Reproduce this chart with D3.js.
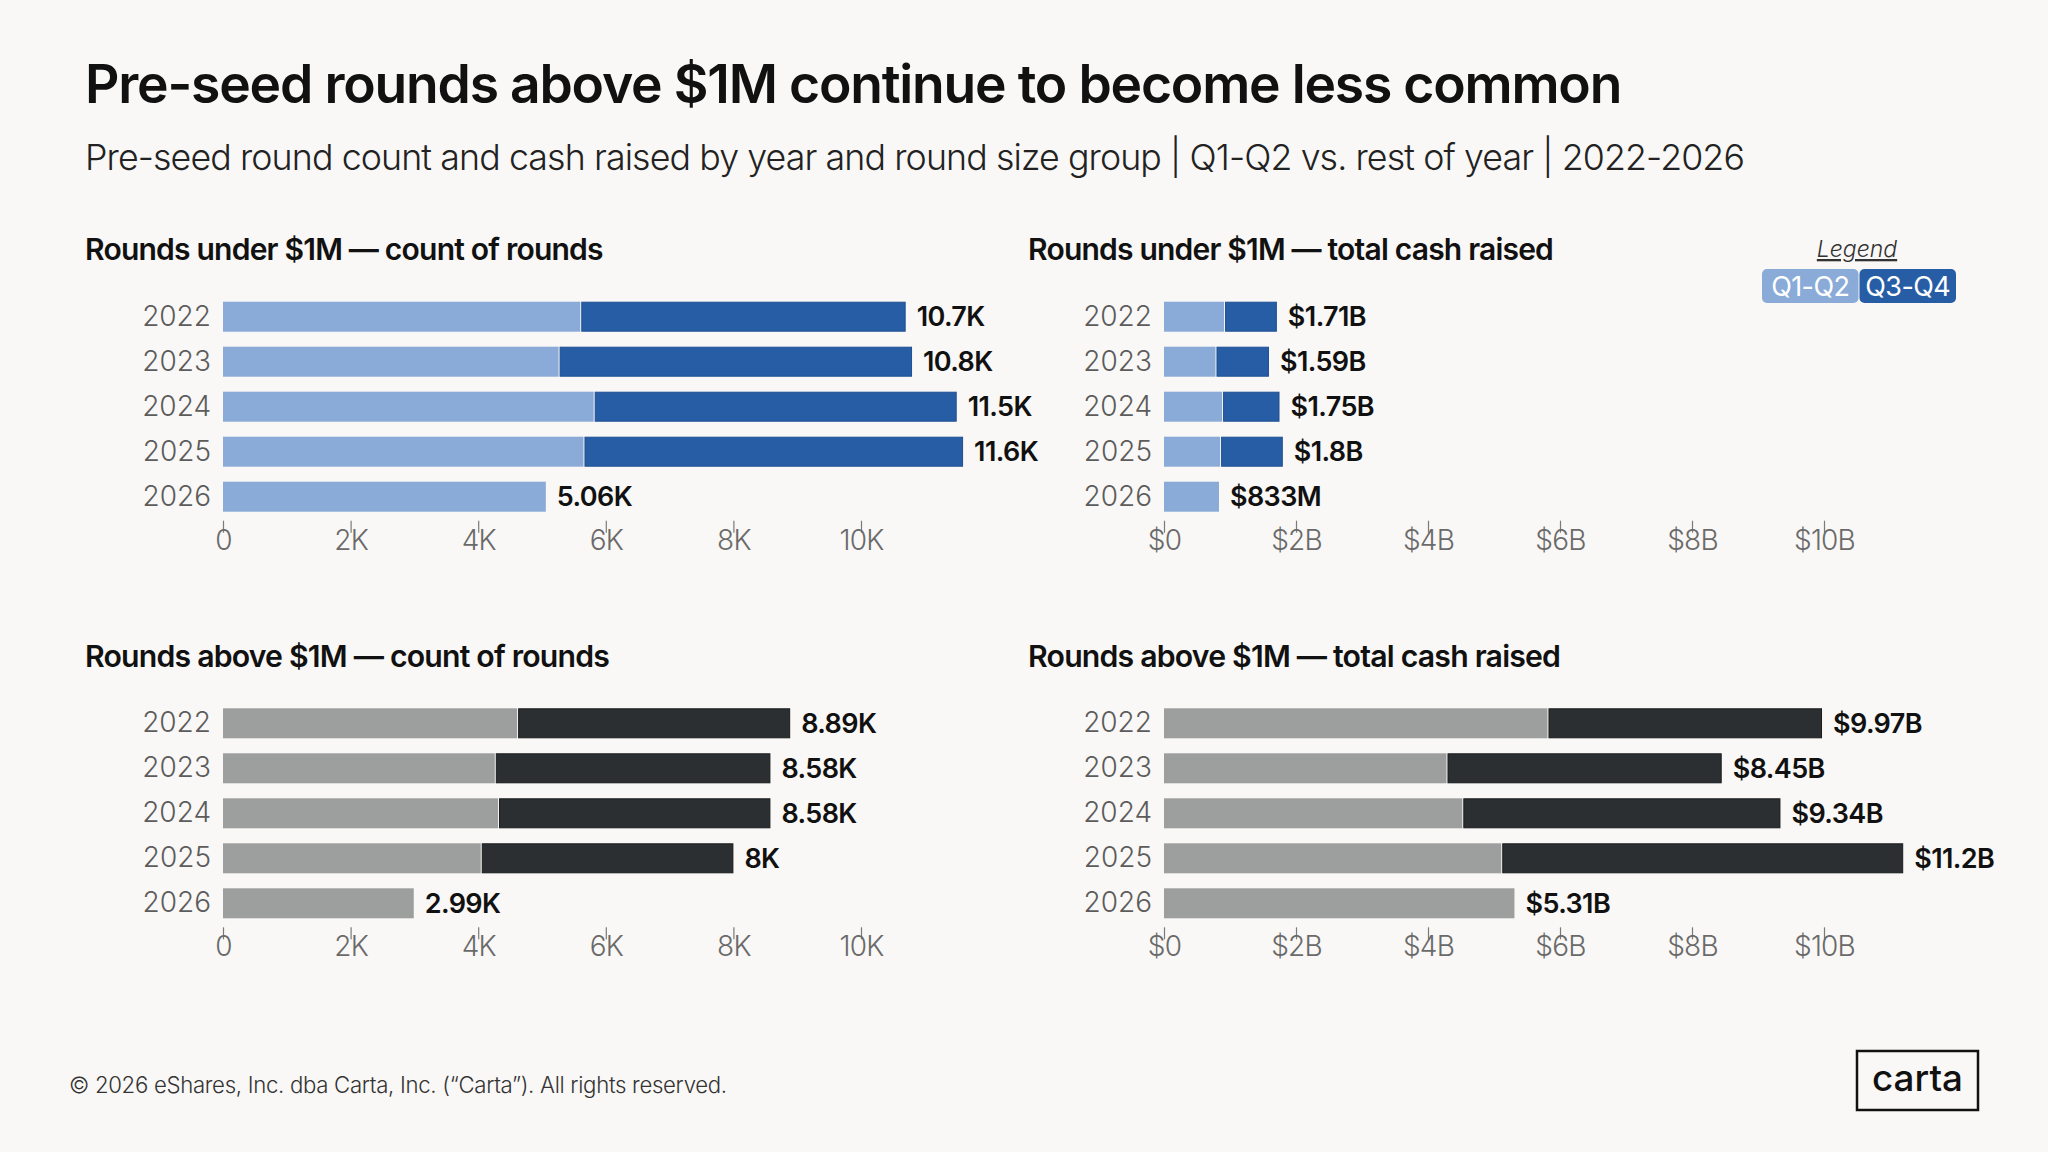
<!DOCTYPE html>
<html>
<head>
<meta charset="utf-8">
<script src="https://cdn.jsdelivr.net/npm/d3@7"></script>
<style>
	html, body { margin: 0; padding: 0; background: #f9f8f6; }
	svg { display: block; font-family: Inter, Lato, "Noto Sans", sans-serif; }
</style>
</head>
<body>
<div id="chart"></div>
<script>
const years = [2022, 2023, 2024, 2025, 2026]

// rounds under $1M, count of rounds
const underCountH1 = [5600, 5260, 5810, 5650, 5060]
const underCountH2 = [5100, 5540, 5690, 5950, 0]
// rounds under $1M, cash raised ($B)
const underCashH1 = [0.91, 0.78, 0.88, 0.85, 0.833]
const underCashH2 = [0.80, 0.81, 0.87, 0.95, 0]
// rounds above $1M, count of rounds
const aboveCountH1 = [4610, 4260, 4310, 4040, 2990]
const aboveCountH2 = [4280, 4320, 4270, 3960, 0]
// rounds above $1M, cash raised ($B)
const aboveCashH1 = [5.81, 4.28, 4.52, 5.11, 5.31]
const aboveCashH2 = [4.16, 4.17, 4.82, 6.09, 0]

const countTicks = [0, 2000, 4000, 6000, 8000, 10000]
const cashTicks = [0, 2, 4, 6, 8, 10]
const legendLabels = ['Q1-Q2', 'Q3-Q4']

const BG = '#f9f8f6'
const BLUE_LIGHT = '#8aaad7'
const BLUE_DARK = '#275da5'
const GRAY_LIGHT = '#9d9e9e'
const GRAY_DARK = '#2b2f31'

const fmtCount = v => d3.format('.3~s')(v).replace('k', 'K')
const fmtCash = v => '$' + d3.format('.3~s')(v * 1e9).replace('G', 'B')
const tickCount = v => v === 0 ? '0' : (v / 1000) + 'K'
const tickCash = v => v === 0 ? '$0' : '$' + v + 'B'

function draw() {
	const width = 2048
	const height = 1152

	const svg = d3.select('#chart')
		.append('svg')
			.attr('width', width)
			.attr('height', height)

	svg.append('rect')
		.attr('width', width)
		.attr('height', height)
		.attr('fill', BG)

	// scales the font so the text spans the wanted width
	const fit = (sel, w) => {
		const size = parseFloat(sel.attr('font-size'))
		const len = sel.node().getComputedTextLength()
		sel.attr('font-size', (size * w / len).toFixed(2))
		return sel
	}

	fit(svg.append('text')
		.attr('x', 85).attr('y', 103)
		.attr('font-size', 50).attr('font-weight', 600)
		.attr('fill', '#111')
		.attr('letter-spacing', '-1.2')
		.text('Pre-seed rounds above $1M continue to become less common'), 1532)

	fit(svg.append('text')
		.attr('x', 85).attr('y', 170)
		.attr('font-size', 33).attr('font-weight', 300)
		.attr('fill', '#222')
		.attr('letter-spacing', '-0.9')
		.text('Pre-seed round count and cash raised by year and round size group | Q1-Q2 vs. rest of year | 2022-2026'), 1652)

	const countX = d3.scaleLinear().domain([0, 10000]).range([223, 861])
	const cashX = d3.scaleLinear().domain([0, 10]).range([1164, 1824])

	const panels = [
		{ title: 'Rounds under $1M \u2014 count of rounds', tw: 516, tx: 85, dy: 0,
			x: countX, h1: underCountH1, h2: underCountH2, ticks: countTicks, tf: tickCount, vf: fmtCount,
			c1: BLUE_LIGHT, c2: BLUE_DARK, edge: '#1e4f93' },
		{ title: 'Rounds under $1M \u2014 total cash raised', tw: 523, tx: 1028, dy: 0,
			x: cashX, h1: underCashH1, h2: underCashH2, ticks: cashTicks, tf: tickCash, vf: fmtCash,
			c1: BLUE_LIGHT, c2: BLUE_DARK, edge: '#1e4f93' },
		{ title: 'Rounds above $1M \u2014 count of rounds', tw: 522, tx: 85, dy: 406.6,
			x: countX, h1: aboveCountH1, h2: aboveCountH2, ticks: countTicks, tf: tickCount, vf: fmtCount,
			c1: GRAY_LIGHT, c2: GRAY_DARK, edge: '#1a1d1e' },
		{ title: 'Rounds above $1M \u2014 total cash raised', tw: 530, tx: 1028, dy: 406.6,
			x: cashX, h1: aboveCashH1, h2: aboveCashH2, ticks: cashTicks, tf: tickCash, vf: fmtCash,
			c1: GRAY_LIGHT, c2: GRAY_DARK, edge: '#1a1d1e' }
	]

	panels.forEach(p => {
		const g = svg.append('g')
		const x = p.x
		const y = d3.scaleBand()
			.domain(years)
			.range([294.2 + p.dy, 519.2 + p.dy])
			.paddingInner(1 / 3)
			.paddingOuter(1 / 6)

		fit(g.append('text')
			.attr('x', p.tx).attr('y', 260 + p.dy)
			.attr('font-size', 28).attr('font-weight', 600)
			.attr('fill', '#111')
			.attr('letter-spacing', '-0.8')
			.text(p.title), p.tw)

		const rows = years.map((yr, i) => ({ year: yr, a: p.h1[i], b: p.h2[i] }))

		g.selectAll('.seg1')
			.data(rows)
			.join('rect')
			.attr('class', 'seg1')
			.attr('x', x(0))
			.attr('y', d => y(d.year))
			.attr('width', d => x(d.a) - x(0))
			.attr('height', y.bandwidth())
			.attr('fill', p.c1)

		g.selectAll('.seg2')
			.data(rows.filter(d => d.b > 0))
			.join('rect')
			.attr('class', 'seg2')
			.attr('x', d => x(d.a) + 1.5)
			.attr('y', d => y(d.year) + 0.5)
			.attr('width', d => x(d.a + d.b) - x(d.a) - 2)
			.attr('height', y.bandwidth() - 1)
			.attr('fill', p.c2)
			.attr('stroke', p.edge)
			.attr('stroke-width', 1)

		g.selectAll('.yr')
			.data(rows)
			.join('text')
			.attr('class', 'yr')
			.attr('x', x(0) - 12)
			.attr('y', d => y(d.year) + y.bandwidth() / 2 + 9)
			.attr('text-anchor', 'end')
			.attr('font-size', 28).attr('font-weight', 300)
			.attr('fill', '#5c5c5c')
			.text(d => d.year)

		g.selectAll('.val')
			.data(rows)
			.join('text')
			.attr('class', 'val')
			.attr('x', d => x(d.a + d.b) + 11)
			.attr('y', d => y(d.year) + y.bandwidth() / 2 + 9.5)
			.attr('font-size', 27).attr('font-weight', 600)
			.attr('fill', '#111')
			.attr('letter-spacing', '-0.6')
			.text(d => p.vf(d.a + d.b))

		const axis = g.append('g')
			.attr('transform', `translate(0,${520.7 + p.dy})`)
			.call(d3.axisBottom(x).tickValues(p.ticks).tickFormat(p.tf).tickSize(12))
		axis.select('.domain').remove()
		axis.selectAll('.tick line').attr('stroke', '#7a7a7a').attr('stroke-width', 1.2)
		axis.selectAll('.tick text')
			.attr('y', 29).attr('dy', 0)
			.attr('font-size', 28).attr('font-weight', 300)
			.attr('font-family', 'Inter, Lato, sans-serif')
			.attr('letter-spacing', '-0.8')
			.attr('fill', '#6a6a6a')
	})

	// legend
	const lg = svg.append('g')
	lg.append('text')
		.attr('x', 1857).attr('y', 257)
		.attr('text-anchor', 'middle')
		.attr('font-size', 23).attr('font-style', 'italic').attr('font-weight', 300)
		.attr('fill', '#333')
		.attr('text-decoration', 'underline')
		.text('Legend')

	const legX = d3.scaleBand().domain(legendLabels).range([1762, 1956]).paddingInner(0.01)
	const legColors = [BLUE_LIGHT, BLUE_DARK]
	legendLabels.forEach((lab, i) => {
		lg.append('rect')
			.attr('x', legX(lab)).attr('y', 269)
			.attr('width', legX.bandwidth()).attr('height', 34)
			.attr('rx', 5)
			.attr('fill', legColors[i])
		lg.append('text')
			.attr('x', legX(lab) + legX.bandwidth() / 2).attr('y', 296)
			.attr('text-anchor', 'middle')
			.attr('font-size', 27).attr('font-weight', 400)
			.attr('letter-spacing', '-0.6')
			.attr('fill', '#fff')
			.text(lab)
	})

	// footer
	fit(svg.append('text')
		.attr('x', 69).attr('y', 1093)
		.attr('font-size', 21).attr('font-weight', 300)
		.attr('fill', '#333')
		.attr('letter-spacing', '-0.3')
		.text('\u00a9 2026 eShares, Inc. dba Carta, Inc. (\u201cCarta\u201d). All rights reserved.'), 657)

	svg.append('rect')
		.attr('x', 1857).attr('y', 1051)
		.attr('width', 121).attr('height', 59)
		.attr('fill', 'none')
		.attr('stroke', '#111')
		.attr('stroke-width', 2.5)
	fit(svg.append('text')
		.attr('x', 1872).attr('y', 1091)
		.attr('font-size', 36).attr('font-weight', 500)
		.attr('fill', '#111')
		.text('carta'), 91)
}

document.fonts.ready.then(draw)
</script>
</body>
</html>
